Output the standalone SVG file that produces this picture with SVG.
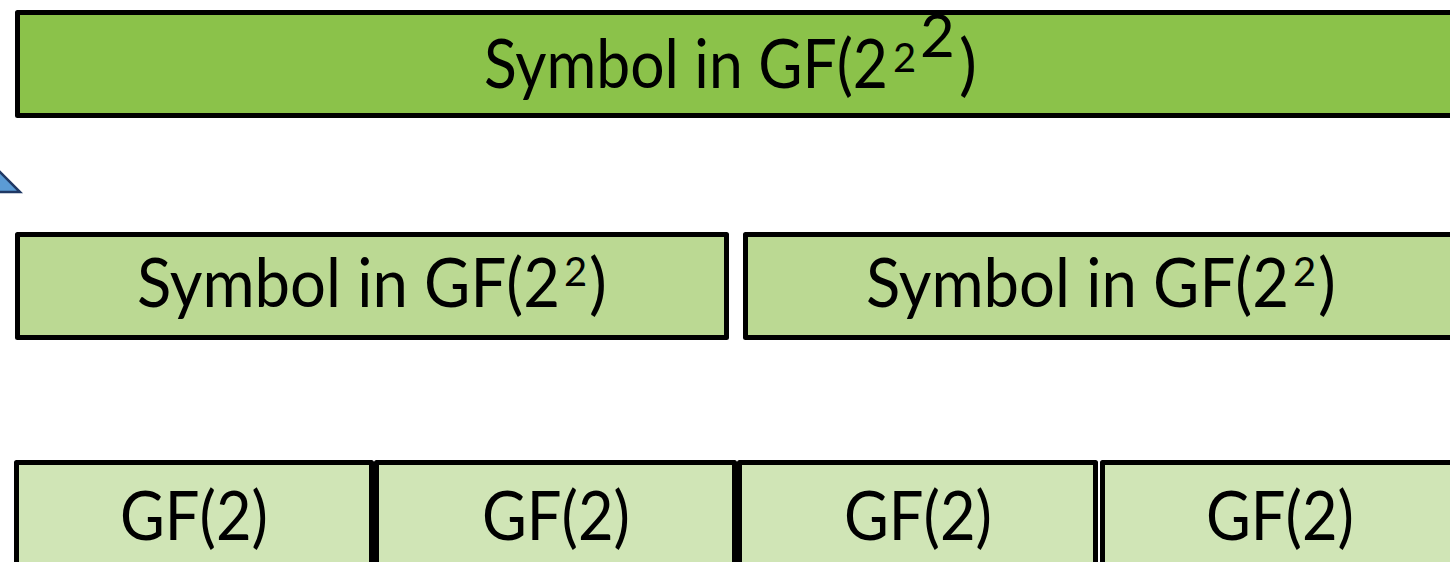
<svg xmlns="http://www.w3.org/2000/svg" width="1450" height="562" viewBox="0 0 1450 562">
  <style>
    .box { stroke: #000000; stroke-width: 5; stroke-linejoin: round; }
    .l1 { fill: #8BC24A; }
    .l2 { fill: #BBD993; }
    .l3 { fill: #D0E5B6; }
    .t { font-family: Lato, "Open Sans", "Liberation Sans", sans-serif; fill: #000000; font-size: 67px; }
    .sup { font-size: 40px; }
    .sup2 { font-size: 60px; }
  </style>

  <!-- pointer shape at the left edge -->
  <g id="pointer">
    <polygon points="-60,192 -20,152 20,192" fill="#5B9BD5" stroke="#1F3864" stroke-width="2.5"/>
  </g>

  <!-- top level: one symbol -->
  <g id="symbol-top">
    <rect class="box l1" x="17.5" y="12.5" width="1450" height="103"/>
    <text class="t"><tspan x="484" y="88" textLength="404" lengthAdjust="spacingAndGlyphs">Symbol in GF(2</tspan><tspan class="sup" x="893" y="72">2</tspan><tspan class="sup2" x="920" y="57">2</tspan><tspan x="959" y="88">)</tspan></text>
  </g>

  <!-- middle level: two sub-symbols -->
  <g id="symbol-mid-left">
    <rect class="box l2" x="17.5" y="234.5" width="709" height="103"/>
    <text class="t"><tspan x="137" y="307" textLength="423" lengthAdjust="spacingAndGlyphs">Symbol in GF(2</tspan><tspan class="sup" x="564" y="286">2</tspan><tspan x="589" y="307">)</tspan></text>
  </g>
  <g id="symbol-mid-right">
    <rect class="box l2" x="745.5" y="234.5" width="720" height="103"/>
    <text class="t"><tspan x="866" y="307" textLength="423" lengthAdjust="spacingAndGlyphs">Symbol in GF(2</tspan><tspan class="sup" x="1293" y="286">2</tspan><tspan x="1318" y="307">)</tspan></text>
  </g>

  <!-- bottom level: four bits -->
  <g id="bit-1">
    <rect class="box l3" x="16.5" y="462.5" width="355" height="120"/>
    <text class="t" x="194" y="540" text-anchor="middle" textLength="148" lengthAdjust="spacingAndGlyphs">GF(2)</text>
  </g>
  <g id="bit-2">
    <rect class="box l3" x="376.5" y="462.5" width="358" height="120"/>
    <text class="t" x="556" y="540" text-anchor="middle" textLength="148" lengthAdjust="spacingAndGlyphs">GF(2)</text>
  </g>
  <g id="bit-3">
    <rect class="box l3" x="739.5" y="462.5" width="356" height="120"/>
    <text class="t" x="918" y="540" text-anchor="middle" textLength="148" lengthAdjust="spacingAndGlyphs">GF(2)</text>
  </g>
  <g id="bit-4">
    <rect class="box l3" x="1102.5" y="462.5" width="370" height="120"/>
    <text class="t" x="1280" y="540" text-anchor="middle" textLength="148" lengthAdjust="spacingAndGlyphs">GF(2)</text>
  </g>

  <g id="connectors"></g>
</svg>
